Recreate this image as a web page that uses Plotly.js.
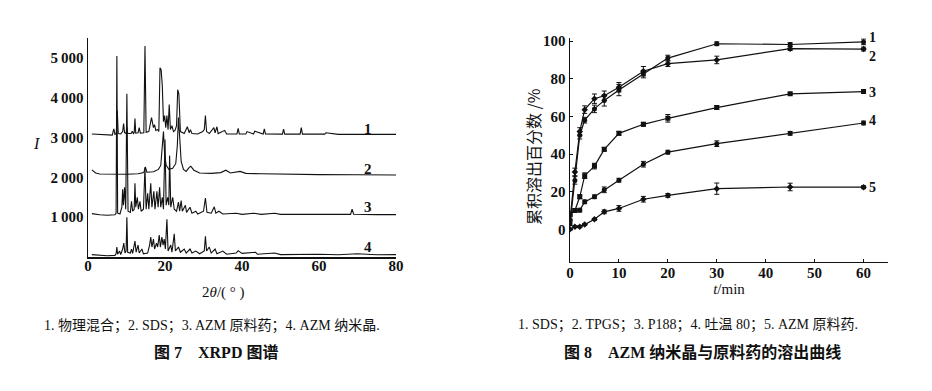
<!DOCTYPE html>
<html>
<head>
<meta charset="utf-8">
<script src="https://cdn.plot.ly/plotly-3.0.1.min.js"></script>
<style>html,body{margin:0;padding:0;background:#fff;}#chart{width:932px;height:391px;}</style>
</head>
<body>
<div id="chart"></div>
<script>
// ---------- Figure 7: XRPD patterns, [2theta, I] pairs ----------
const xrdPhysMix = [[1,3090],[3,3075],[5,3060],[6.3,3060],[6.7,3220],[7.0,3080],[7.35,3100],[7.6,3680],[7.85,3100],[8.5,3090],[9.0,3150],[9.25,3350],[9.5,3120],[9.9,3100],[10.1,3260],[10.3,3100],[11.2,3100],[11.5,3160],[11.8,3100],[12.0,3120],[12.2,3480],[12.4,3110],[13.0,3120],[13.3,3250],[13.6,3110],[14.5,3120],[14.8,5300],[15.1,3130],[15.8,3150],[16.5,3500],[17.0,3250],[17.3,3320],[17.6,3180],[18.1,3200],[18.4,3150],[18.7,4750],[19.0,4700],[19.3,4300],[19.6,3400],[19.9,3550],[20.2,3250],[20.5,3550],[20.8,3200],[21.1,3830],[21.4,3200],[21.8,3300],[22.2,3150],[22.6,3180],[23.0,3300],[23.3,4200],[23.6,4100],[24.0,3150],[25.0,3100],[25.8,3270],[26.3,3120],[26.6,3200],[27.0,3100],[28.5,3090],[29.8,3150],[30.2,3200],[30.5,3550],[30.8,3150],[31.5,3100],[32.7,3250],[33.0,3120],[33.5,3270],[33.8,3100],[35.5,3180],[36,3090],[38.7,3090],[39.0,3230],[39.3,3090],[41,3090],[41.3,3150],[43,3090],[43.3,3160],[45.5,3090],[45.8,3220],[46.1,3090],[50.5,3085],[50.8,3210],[51.1,3085],[55.1,3085],[55.4,3250],[55.7,3085],[61.5,3085],[61.8,3120],[65,3080],[70,3080],[75,3085],[80,3080]];
const xrdSDS = [[1,2190],[2,2110],[3,2085],[6,2075],[10,2080],[13,2090],[14.5,2120],[14.9,2260],[15.3,2130],[17,2140],[18.3,2200],[18.9,2300],[19.3,2700],[19.6,3150],[19.9,2600],[20.3,2300],[21,2200],[22,2230],[22.8,2350],[23.2,2800],[23.5,3500],[23.8,3000],[24.2,2400],[24.8,2200],[25.5,2150],[26.3,2250],[26.7,2280],[27.5,2180],[29,2110],[32,2100],[34.5,2120],[35.8,2180],[37,2110],[39.5,2150],[41,2100],[45,2090],[50,2080],[60,2070],[70,2065],[80,2060]];
const xrdAZM = [[1,1090],[3,1060],[5,1050],[7,1060],[7.3,1100],[7.5,5050],[7.7,1100],[8.3,1080],[8.8,1250],[9.0,1700],[9.2,1300],[9.5,1750],[9.8,1200],[10.1,4100],[10.4,1150],[11.0,1120],[11.3,1400],[11.6,1150],[12.0,1200],[12.2,1850],[12.4,1250],[12.8,1500],[13.1,1200],[13.5,1400],[13.8,1150],[14.4,1200],[14.8,2250],[15.1,1200],[15.5,1600],[15.8,1200],[16.3,1850],[16.6,1250],[17.1,1650],[17.4,1200],[17.9,1650],[18.2,1250],[18.6,1750],[18.9,1250],[19.3,1500],[19.6,1200],[20.0,2950],[20.3,1300],[20.7,1500],[21.0,1300],[21.2,2550],[21.5,1250],[22.0,1500],[22.4,1200],[23.0,1150],[23.5,1380],[23.8,1150],[24.2,1420],[24.5,1150],[25.3,1300],[25.6,1120],[26.5,1250],[27,1100],[28,1150],[28.5,1080],[30.0,1150],[30.5,1480],[30.9,1120],[32.0,1100],[32.8,1260],[33.2,1100],[34.0,1150],[35,1080],[38.5,1100],[40,1070],[43,1100],[45,1070],[48.5,1100],[50,1070],[60,1065],[68.2,1070],[68.6,1200],[69.0,1075],[75,1065],[80,1065]];
const xrdNano = [[1,60],[3,40],[5,30],[7,40],[7.3,80],[7.5,250],[7.7,70],[8.2,150],[8.5,60],[9.0,200],[9.3,350],[9.6,100],[9.9,150],[10.1,1000],[10.3,120],[11.0,100],[11.3,200],[11.6,90],[12.2,400],[12.5,120],[13.0,300],[13.3,100],[14,200],[14.4,80],[15.5,100],[16.0,300],[16.3,500],[16.6,250],[17.0,450],[17.3,200],[17.8,350],[18.1,250],[18.5,550],[18.8,250],[19.2,500],[19.5,300],[19.8,450],[20.1,200],[20.5,950],[20.8,150],[21.5,300],[21.8,120],[22.4,580],[22.7,150],[23.5,250],[24,120],[25,200],[25.5,100],[26.5,200],[27,100],[28,150],[29,80],[30.2,150],[30.5,520],[30.8,150],[31.5,250],[32,100],[33,200],[33.5,80],[35,150],[36,70],[38.5,100],[39,160],[40,90],[43.5,120],[44,70],[48.5,100],[50,60],[60,70],[65,55],[70,80],[75,55],[80,60]];
const xrdLabels = ['1','2','3','4'];
const xrdLabelY = [3227, 2217, 1257, 247];
const xrdTickVals = [1000, 2000, 3000, 4000, 5000];
const xrdTickText = ['1\u2009000', '2\u2009000', '3\u2009000', '4\u2009000', '5\u2009000'];

// ---------- Figure 8: dissolution curves ----------
const timeMin = [0, 1, 2, 3, 5, 7, 10, 15, 20, 30, 45, 60];
const relSDS   = [3, 26, 50, 58, 64, 68.5, 74, 82.5, 91, 98.6, 98.2, 99.6];
const relTPGS  = [5, 30.5, 52, 63.6, 69.4, 71, 75.5, 84, 88, 90, 96, 95.8];
const relP188  = [8, 10, 17.3, 28.5, 33.6, 42.5, 51, 55.8, 59, 64.7, 72, 73.2];
const relTween = [8, 10, 10.2, 14.6, 17.3, 21, 26.1, 34.6, 41, 45.5, 51, 56.5];
const relAZM   = [0, 1.4, 1.4, 2.5, 5.3, 9.3, 11.1, 16, 18, 21.6, 22.5, 22.4];
const errSDS   = [1, 2, 2, 1.5, 2, 3, 3, 2, 1.5, 1, 1, 1.5];
const errTPGS  = [1, 2, 2, 2, 2.5, 2.5, 2.5, 2.5, 1.5, 2, 1, 1];
const errP188  = [1, 1, 1, 1.5, 1.5, 1, 1, 1, 2, 1, 0.5, 1];
const errTween = [1, 1, 1, 1, 1, 1.5, 1, 1.5, 1, 1.5, 1, 1];
const errAZM   = [0.5, 0.5, 0.5, 0.5, 0.5, 1, 1.5, 1.5, 1, 3, 2, 0.8];
const relLabels = ['1', '2', '3', '4', '5'];
const relLabelY = [100, 93.5, 72.8, 57.9, 22.4];

const INK = '#111111';
const SERIF = 'Liberation Serif, Times New Roman, serif';
const CJK = 'Liberation Serif, Noto Sans CJK SC, serif';

const traces = [];
[xrdPhysMix, xrdSDS, xrdAZM, xrdNano].forEach(function (pat) {
  traces.push({
    x: pat.map(function (p) { return p[0]; }),
    y: pat.map(function (p) { return p[1]; }),
    mode: 'lines', line: {color: INK, width: 1.1},
    xaxis: 'x', yaxis: 'y', hoverinfo: 'skip', showlegend: false
  });
});
const rel = [relSDS, relTPGS, relP188, relTween, relAZM];
const err = [errSDS, errTPGS, errP188, errTween, errAZM];
const syms = ['circle', 'diamond', 'square', 'circle', 'diamond'];
rel.forEach(function (s, i) {
  traces.push({
    x: timeMin, y: s, mode: 'lines+markers',
    line: {color: INK, width: 1.2},
    marker: {color: INK, size: 5, symbol: syms[i]},
    error_y: {type: 'data', array: err[i], visible: true, color: INK, thickness: 1, width: 2.5},
    xaxis: 'x2', yaxis: 'y2', hoverinfo: 'skip', showlegend: false
  });
});

const labelFont = {family: SERIF, size: 15, color: INK, weight: 'bold'};
const annotations = [];
xrdLabels.forEach(function (t, i) {
  annotations.push({text: t, x: 72.7, y: xrdLabelY[i], xref: 'x', yref: 'y', showarrow: false,
    xanchor: 'center', yanchor: 'middle', font: labelFont});
});
relLabels.forEach(function (t, i) {
  const a = {text: t, x: 61.8, y: relLabelY[i], xref: 'x2', yref: 'y2', showarrow: false,
    xanchor: 'center', yanchor: 'middle', font: {family: SERIF, size: 14, color: INK, weight: 'bold'}};
  if (i === 0) { a.y = 97; a.yanchor = 'bottom'; }
  if (i === 1) { a.y = 97; a.yanchor = 'top'; }
  annotations.push(a);
});
function px(x) { return x / 932; }
function py(y) { return 1 - y / 391; }
function paperText(text, x, y, font, angle) {
  return {text: text, x: px(x), y: py(y), xref: 'paper', yref: 'paper', showarrow: false,
    xanchor: 'center', yanchor: 'middle', font: font, textangle: angle || 0};
}
annotations.push(paperText('<i>I</i>', 36, 143, {family: SERIF, size: 16, color: INK}));
annotations.push(paperText('2<i>θ</i>/( ° )', 223, 292, {family: SERIF, size: 15, color: INK}));
annotations.push(paperText('累积溶出百分数 /%', 533, 157, {family: 'Noto Sans CJK SC, sans-serif', size: 16, color: INK}, -90));
annotations.push(paperText('1. 物理混合；2. SDS；3. AZM 原料药；4. AZM 纳米晶.', 212, 326, {family: CJK, size: 14, color: INK}));
annotations.push(paperText('<b>图 7　XRPD 图谱</b>', 216, 352, {family: CJK, size: 16, color: INK}));
annotations.push(paperText('1. SDS；2. TPGS；3. P188；4. 吐温 80；5. AZM 原料药.', 688, 325, {family: CJK, size: 14, color: INK}));
annotations.push(paperText('<b>图 8　AZM 纳米晶与原料药的溶出曲线</b>', 702, 352, {family: CJK, size: 16, color: INK}));

const tickFont = {family: SERIF, size: 15, color: INK, weight: 'bold'};
const layout = {
  width: 932, height: 391,
  margin: {l: 0, r: 0, t: 0, b: 0},
  paper_bgcolor: '#ffffff', plot_bgcolor: '#ffffff',
  showlegend: false,
  xaxis: {
    domain: [88 / 932, 396 / 932], range: [0, 80], tickvals: [0, 20, 40, 60, 80],
    showline: true, linecolor: INK, linewidth: 1.5, ticks: '', showgrid: false, zeroline: false,
    tickfont: tickFont, anchor: 'y', ticklabelstandoff: -6
  },
  yaxis: {
    domain: [1 - 257 / 391, 1 - 38 / 391], range: [0, 5500], tickvals: xrdTickVals, ticktext: xrdTickText,
    showline: true, linecolor: INK, linewidth: 1.5, ticks: '', showgrid: false, zeroline: false,
    tickfont: tickFont, anchor: 'x'
  },
  xaxis2: {
    domain: [570 / 932, 888 / 932], range: [0, 65], tickvals: [0, 10, 20, 30, 40, 50, 60],
    showline: true, linecolor: INK, linewidth: 1.5, ticks: 'inside', ticklen: 3, tickcolor: INK,
    showgrid: false, zeroline: false, tickfont: tickFont, anchor: 'y2', ticklabelstandoff: -3,
    title: {text: '<i>t</i>/min', font: {family: SERIF, size: 15, color: INK}, standoff: 3}
  },
  yaxis2: {
    domain: [1 - 261.7 / 391, 1 - 38.3 / 391], range: [-17.2, 101.5], tickvals: [0, 20, 40, 60, 80, 100],
    showline: true, linecolor: INK, linewidth: 1.5, ticks: 'inside', ticklen: 3, tickcolor: INK,
    showgrid: false, zeroline: false, tickfont: tickFont, anchor: 'x2'
  },
  annotations: annotations
};
Plotly.newPlot('chart', traces, layout, {staticPlot: true, displayModeBar: false});
</script>
</body>
</html>
